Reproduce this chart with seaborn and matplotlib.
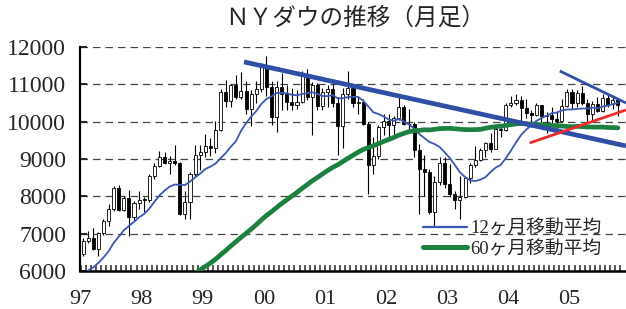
import numpy as np
import pandas as pd
import matplotlib
matplotlib.use('Agg')
import matplotlib.pyplot as plt
from matplotlib.lines import Line2D
import seaborn as sns

# NY Dow monthly candles, Jan 1997 - Oct 2005
dow_open = [
    6448, 6813, 6878, 6583, 7009, 7331, 7673, 8223, 7622, 7945, 7442, 7823,
    7908, 7907, 8546, 8800, 9063, 8900, 8952, 8883, 7539, 7843, 8592, 9117,
    9181, 9359, 9307, 9786, 10789, 10560, 10971, 10655, 10829, 10337, 10730, 10878,
    11497, 10941, 10128, 10922, 10734, 10522, 10448, 10522, 11215, 10651, 10971, 10415,
    10787, 10887, 10495, 9879, 10735, 10912, 10502, 10523, 9950, 8848, 9075, 9852,
    10022, 9920, 10106, 10404, 9946, 9925, 9243, 8737, 8664, 7592, 8397, 8896,
    8342, 8054, 7891, 7992, 8480, 8850, 8985, 9234, 9416, 9275, 9801, 9782,
    10454, 10488, 10584, 10358, 10226, 10188, 10435, 10140, 10174, 10080, 10027, 10428,
    10783, 10490, 10766, 10504, 10193, 10467, 10275, 10641, 10482, 10569,
]
dow_high = [
    6883, 7079, 7158, 7050, 7384, 7805, 8289, 8299, 8001, 8178, 7881, 8150,
    7984, 8600, 8900, 9211, 9180, 9070, 9367, 8920, 8150, 8650, 9380, 9380,
    9660, 9560, 10006, 10878, 11107, 11000, 11252, 11326, 11080, 10850, 11090, 11568,
    11750, 11100, 11100, 11300, 10980, 10900, 10850, 11350, 11400, 11050, 11030, 10900,
    10990, 11000, 10650, 10900, 11350, 11000, 10700, 10610, 10000, 9600, 9900, 10200,
    10200, 10150, 10670, 10450, 10350, 10000, 9400, 9100, 8720, 8550, 9050, 9050,
    8870, 8150, 8550, 8530, 8900, 9350, 9300, 9450, 9700, 9850, 9900, 10500,
    10700, 10750, 10700, 10600, 10300, 10500, 10450, 10250, 10400, 10250, 10600, 10870,
    10870, 10850, 10950, 10600, 10550, 10650, 10730, 10730, 10700, 10600,
]
dow_low = [
    6391, 6756, 6551, 6392, 6971, 7214, 7598, 7600, 7620, 6936, 7335, 7661,
    7580, 7860, 8459, 8790, 8860, 8600, 8850, 7500, 7400, 7400, 8550, 8700,
    9063, 9080, 9150, 9760, 10400, 10400, 10600, 10600, 10200, 9880, 10500, 10800,
    10700, 9900, 9731, 10300, 10300, 10300, 10350, 10500, 10580, 9650, 10300, 10300,
    10400, 10400, 9100, 9300, 10600, 10400, 10200, 9920, 8062, 8600, 9000, 9650,
    9530, 9600, 10050, 9900, 9800, 9050, 7530, 8000, 7540, 7197, 8300, 8230,
    7990, 7670, 7400, 7950, 8350, 8780, 8950, 9050, 9200, 9270, 9600, 9750,
    10400, 10450, 10000, 10100, 9850, 10150, 9950, 9700, 9950, 9750, 10000, 10400,
    10350, 10400, 10450, 10000, 10050, 10250, 10250, 10400, 10350, 10150,
]
dow_close = [
    6813, 6878, 6583, 7009, 7331, 7673, 8223, 7622, 7945, 7442, 7823, 7908,
    7907, 8546, 8800, 9063, 8900, 8952, 8883, 7539, 7843, 8592, 9117, 9181,
    9359, 9307, 9786, 10789, 10560, 10971, 10655, 10829, 10337, 10730, 10878, 11497,
    10941, 10128, 10922, 10734, 10522, 10448, 10522, 11215, 10651, 10971, 10415, 10787,
    10887, 10495, 9879, 10735, 10912, 10502, 10523, 9950, 8848, 9075, 9852, 10022,
    9920, 10106, 10404, 9946, 9925, 9243, 8737, 8664, 7592, 8397, 8896, 8342,
    8054, 7891, 7992, 8480, 8850, 8985, 9234, 9416, 9275, 9801, 9782, 10454,
    10488, 10584, 10358, 10226, 10188, 10435, 10140, 10174, 10080, 10027, 10428, 10783,
    10490, 10766, 10504, 10193, 10467, 10275, 10641, 10482, 10569, 10440,
]

# 12-month moving average, Jan 1997 - Oct 2005
ma12 = [
    5898, 6014, 6097, 6217, 6358, 6526, 6751, 6918, 7090, 7207, 7316, 7437,
    7529, 7668, 7852, 8024, 8154, 8261, 8316, 8309, 8301, 8396, 8504, 8610,
    8731, 8795, 8877, 9021, 9159, 9327, 9475, 9749, 9957, 10135, 10282, 10475,
    10607, 10675, 10770, 10765, 10762, 10718, 10707, 10740, 10766, 10786, 10747, 10688,
    10684, 10714, 10627, 10627, 10660, 10664, 10664, 10559, 10409, 10251, 10204, 10140,
    10059, 10027, 10071, 10005, 9923, 9818, 9669, 9562, 9457, 9401, 9321, 9181,
    9026, 8841, 8640, 8518, 8428, 8407, 8448, 8511, 8651, 8768, 8842, 9018,
    9221, 9445, 9642, 9788, 9899, 10020, 10096, 10159, 10226, 10245, 10299, 10326,
    10326, 10341, 10353, 10351, 10374, 10361, 10402, 10428, 10469, 10503,
]

# 60-month moving average, Nov 1998 - Oct 2005
ma60_first_month = 22
ma60 = [
    5941, 6031,
    6121, 6212, 6314, 6433, 6546, 6669, 6783, 6899, 7007, 7121, 7240, 7367,
    7486, 7588, 7700, 7807, 7908, 8006, 8103, 8213, 8311, 8415, 8504, 8598,
    8690, 8773, 8845, 8931, 9019, 9099, 9183, 9255, 9304, 9355, 9411, 9470,
    9522, 9576, 9639, 9688, 9732, 9758, 9766, 9784, 9778, 9794, 9812, 9819,
    9821, 9810, 9797, 9787, 9786, 9787, 9793, 9824, 9848, 9868, 9879, 9900,
    9919, 9940, 9950, 9941, 9934, 9925, 9917, 9906, 9902, 9890, 9882, 9871,
    9863, 9874, 9867, 9858, 9857, 9854, 9856, 9844, 9842, 9833,
]

# hand-drawn trend lines (month index, value)
trend_main_x = [31.6, 106.6]
trend_main_y = [11600, 9350]
trend_upper_x = [93.6, 106.6]
trend_upper_y = [11357, 10500]
trend_red_x = [87.7, 106.6]
trend_red_y = [9430, 10313]

year_labels = ['97', '98', '99', '00', '01', '02', '03', '04', '05']
legend_labels = ['12ヶ月移動平均', '60ヶ月移動平均']
title = 'ＮＹダウの推移（月足）'

sns.set_style('white')
plt.rcParams['font.family'] = ['Liberation Serif', 'Noto Sans CJK JP']

df = pd.DataFrame({'open': dow_open, 'high': dow_high, 'low': dow_low,
                   'close': dow_close, 'ma12': ma12})
df['m'] = np.arange(len(df))
df60 = pd.DataFrame({'m': np.arange(ma60_first_month, ma60_first_month + len(ma60)),
                     'ma60': ma60})

fig = plt.figure(figsize=(6.26, 3.09), dpi=100)
ax = fig.add_axes([80 / 626, 38 / 309, 546 / 626, 224 / 309])

# candles
up = df['close'] >= df['open']
body_lo = np.minimum(df['open'], df['close'])
body_h = np.maximum((df['close'] - df['open']).abs(), 15)
ax.vlines(df['m'], df['low'], df['high'], color='black', lw=0.8, zorder=2)
ax.bar(df['m'], body_h, bottom=body_lo, width=0.6,
       color=np.where(up, 'white', 'black'), edgecolor='black', linewidth=0.6, zorder=3)

blue_ma = '#3a57b5'
blue_tr = '#2f4ea6'
green = '#1d8040'
red = '#ee2b2b'

sns.lineplot(data=df, x='m', y='ma12', ax=ax, color=blue_ma, lw=1.3, zorder=4)
sns.lineplot(data=df60, x='m', y='ma60', ax=ax, color=green, lw=3.4, zorder=4)
ax.plot(trend_main_x, trend_main_y, color=blue_tr, lw=3.4, solid_capstyle='butt', zorder=5, clip_on=False)
ax.plot(trend_upper_x, trend_upper_y, color=blue_tr, lw=2.0, solid_capstyle='butt', zorder=5, clip_on=False)
ax.plot(trend_red_x, trend_red_y, color=red, lw=2.0, solid_capstyle='butt', zorder=5, clip_on=False)

ax.set_xlim(-0.6, 106.6)
ax.set_ylim(6000, 12000)
ax.set_yticks(range(6000, 12001, 1000))
ax.set_xticks(np.arange(len(year_labels)) * 12 - 0.5)
ax.set_xticklabels(year_labels)
ax.set_xticks(np.arange(0, 107) - 0.5, minor=True)
ax.set_xlabel('')
ax.set_ylabel('')

ax.yaxis.grid(True, linestyle=(0, (6, 4)), color='#444444', lw=0.9)
ax.xaxis.grid(False)
ax.set_axisbelow(True)
for s in ['top', 'right']:
    ax.spines[s].set_visible(False)
ax.spines['left'].set_linewidth(1.6)
ax.spines['bottom'].set_linewidth(1.8)
ax.spines['left'].set_color('black')
ax.spines['bottom'].set_color('black')

ax.tick_params(axis='y', direction='in', length=5, width=1.4, pad=10, labelsize=17, left=True)
ax.tick_params(axis='x', which='both', direction='in', length=4, width=1.1, bottom=True)
ax.tick_params(axis='x', which='major', pad=14, labelsize=16)

handles = [Line2D([], [], color=blue_ma, lw=1.6), Line2D([], [], color=green, lw=3.6)]
fig.legend(handles, legend_labels, loc='upper left', bbox_to_anchor=(414 / 626, 1 - 211 / 309),
           bbox_transform=fig.transFigure, frameon=False, borderpad=0, fontsize=13.5,
           handlelength=2.3, handletextpad=0.2, labelspacing=0.15)

fig.text(355 / 626, 1 - 18 / 309, title, ha='center', va='center', fontsize=17,
         family=['Noto Sans CJK JP'])

fig.savefig('out.png', dpi=100)
